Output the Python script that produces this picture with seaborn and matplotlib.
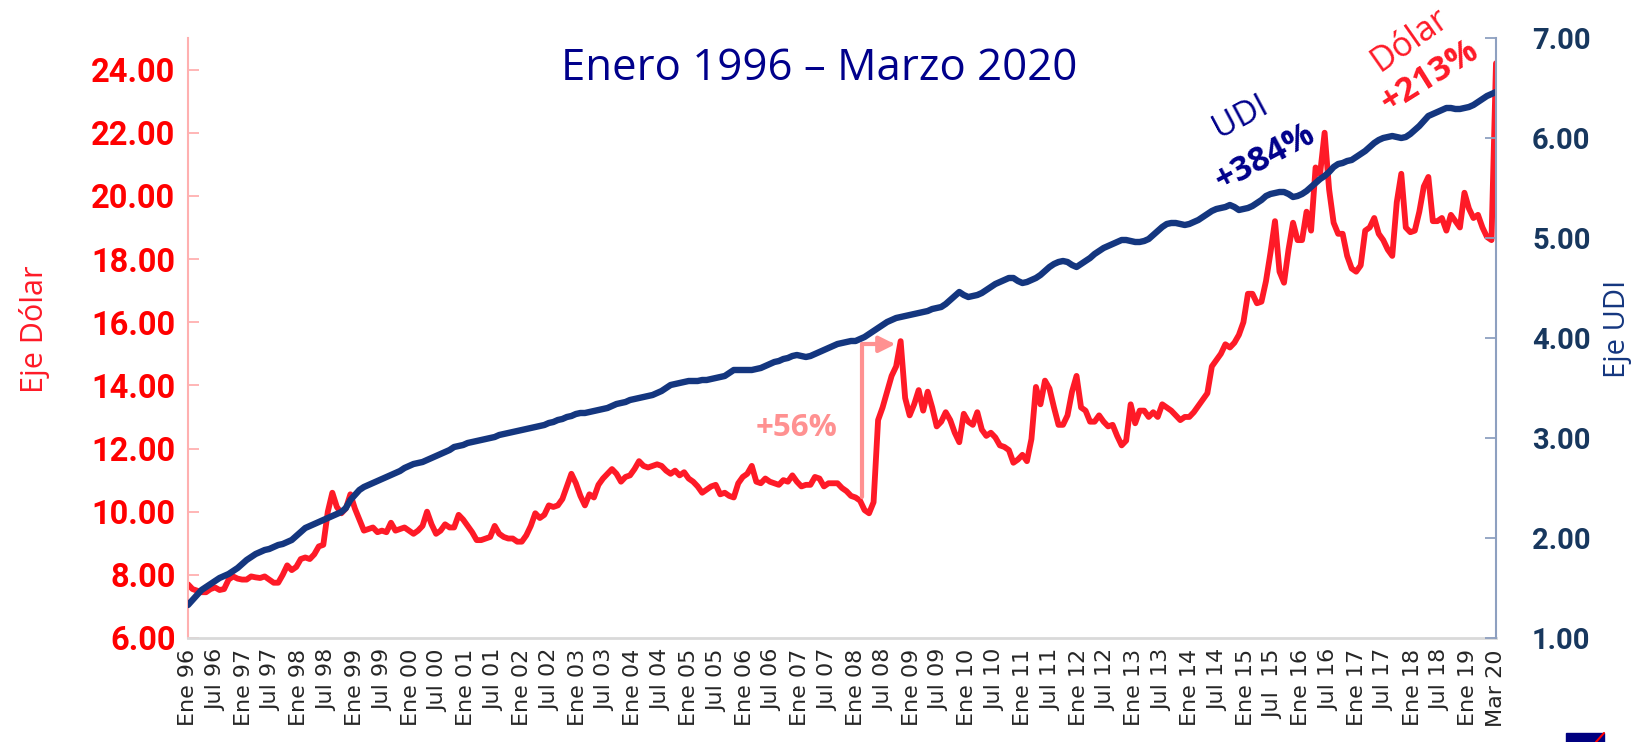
import numpy as np
import pandas as pd
import matplotlib.pyplot as plt
import seaborn as sns
from matplotlib.patches import Rectangle
from matplotlib.lines import Line2D

sns.set_style('white')
plt.rcParams['font.family'] = ['Open Sans', 'DejaVu Sans']

# Tipo de cambio (pesos por dólar), un valor por mes, Ene 96 - Mar 20
dolar = [
    7.70, 7.55, 7.50, 7.45, 7.45, 7.55, 7.60, 7.52, 7.55, 7.85, 7.95, 7.88,        # 1996
    7.85, 7.85, 7.95, 7.92, 7.90, 7.95, 7.85, 7.75, 7.75, 8.00, 8.30, 8.15,        # 1997
    8.25, 8.50, 8.55, 8.50, 8.65, 8.90, 8.95, 10.00, 10.60, 10.15, 9.95, 10.10,    # 1998
    10.55, 10.10, 9.75, 9.40, 9.45, 9.50, 9.35, 9.40, 9.35, 9.65, 9.40, 9.45,      # 1999
    9.50, 9.40, 9.30, 9.40, 9.55, 10.00, 9.60, 9.30, 9.40, 9.60, 9.50, 9.50,       # 2000
    9.90, 9.75, 9.55, 9.35, 9.10, 9.10, 9.15, 9.20, 9.55, 9.30, 9.20, 9.15,        # 2001
    9.15, 9.05, 9.05, 9.25, 9.55, 9.95, 9.80, 9.90, 10.20, 10.15, 10.20, 10.40,    # 2002
    10.80, 11.20, 10.90, 10.50, 10.20, 10.55, 10.45, 10.85, 11.05, 11.20, 11.35, 11.20,  # 2003
    10.95, 11.10, 11.15, 11.35, 11.60, 11.45, 11.40, 11.45, 11.50, 11.45, 11.30, 11.20,  # 2004
    11.30, 11.15, 11.25, 11.05, 10.95, 10.80, 10.60, 10.70, 10.80, 10.85, 10.55, 10.60,  # 2005
    10.50, 10.45, 10.90, 11.10, 11.20, 11.45, 10.95, 10.90, 11.05, 10.95, 10.90, 10.85,  # 2006
    11.00, 10.95, 11.15, 10.95, 10.80, 10.85, 10.85, 11.10, 11.05, 10.80, 10.90, 10.90,  # 2007
    10.90, 10.75, 10.65, 10.50, 10.45, 10.35, 10.05, 9.95, 10.30, 12.90, 13.30, 13.80,   # 2008
    14.30, 14.60, 15.40, 13.60, 13.05, 13.40, 13.85, 13.20, 13.80, 13.30, 12.70, 12.85,  # 2009
    13.15, 12.90, 12.50, 12.20, 13.10, 12.85, 12.75, 13.15, 12.60, 12.40, 12.50, 12.35,  # 2010
    12.10, 12.05, 11.95, 11.55, 11.65, 11.80, 11.60, 12.30, 13.95, 13.40, 14.15, 13.90,  # 2011
    13.30, 12.75, 12.75, 13.05, 13.80, 14.30, 13.30, 13.20, 12.85, 12.85, 13.05, 12.85,  # 2012
    12.70, 12.75, 12.40, 12.10, 12.25, 13.40, 12.80, 13.20, 13.20, 13.00, 13.15, 13.00,  # 2013
    13.40, 13.30, 13.20, 13.05, 12.90, 13.00, 13.00, 13.15, 13.35, 13.55, 13.75, 14.60,  # 2014
    14.80, 15.00, 15.30, 15.20, 15.35, 15.60, 16.00, 16.90, 16.90, 16.60, 16.65, 17.30,  # 2015
    18.20, 19.20, 17.60, 17.25, 18.30, 19.15, 18.60, 18.60, 19.50, 18.90, 20.90, 20.70,  # 2016
    22.00, 20.20, 19.15, 18.80, 18.80, 18.10, 17.70, 17.60, 17.80, 18.90, 19.00, 19.30,  # 2017
    18.80, 18.60, 18.30, 18.10, 19.80, 20.70, 19.00, 18.85, 18.90, 19.50, 20.30, 20.60,  # 2018
    19.20, 19.20, 19.30, 18.90, 19.40, 19.20, 19.00, 20.10, 19.60, 19.30, 19.40, 19.00,  # 2019
    18.70, 18.60, 24.20,                                                                 # 2020
]

# Valor de la UDI, un valor por mes, Ene 96 - Mar 20
udi = [
    1.33, 1.38, 1.43, 1.48, 1.51, 1.54, 1.57, 1.60, 1.62, 1.64, 1.67, 1.70,  # 1996
    1.74, 1.78, 1.81, 1.84, 1.86, 1.88, 1.89, 1.91, 1.93, 1.94, 1.96, 1.98,  # 1997
    2.02, 2.06, 2.10, 2.12, 2.14, 2.16, 2.18, 2.20, 2.22, 2.24, 2.26, 2.30,  # 1998
    2.38, 2.43, 2.48, 2.51, 2.53, 2.55, 2.57, 2.59, 2.61, 2.63, 2.65, 2.67,  # 1999
    2.70, 2.72, 2.74, 2.75, 2.76, 2.78, 2.80, 2.82, 2.84, 2.86, 2.88, 2.91,  # 2000
    2.92, 2.93, 2.95, 2.96, 2.97, 2.98, 2.99, 3.00, 3.01, 3.03, 3.04, 3.05,  # 2001
    3.06, 3.07, 3.08, 3.09, 3.10, 3.11, 3.12, 3.13, 3.15, 3.16, 3.18, 3.19,  # 2002
    3.21, 3.22, 3.24, 3.25, 3.25, 3.26, 3.27, 3.28, 3.29, 3.30, 3.32, 3.34,  # 2003
    3.35, 3.36, 3.38, 3.39, 3.40, 3.41, 3.42, 3.43, 3.45, 3.47, 3.50, 3.53,  # 2004
    3.54, 3.55, 3.56, 3.57, 3.57, 3.57, 3.58, 3.58, 3.59, 3.60, 3.61, 3.62,  # 2005
    3.65, 3.68, 3.68, 3.68, 3.68, 3.68, 3.69, 3.70, 3.72, 3.74, 3.76, 3.77,  # 2006
    3.79, 3.80, 3.82, 3.83, 3.82, 3.81, 3.82, 3.84, 3.86, 3.88, 3.90, 3.92,  # 2007
    3.94, 3.95, 3.96, 3.97, 3.97, 3.99, 4.01, 4.04, 4.07, 4.10, 4.13, 4.16,  # 2008
    4.18, 4.20, 4.21, 4.22, 4.23, 4.24, 4.25, 4.26, 4.27, 4.29, 4.30, 4.31,  # 2009
    4.34, 4.38, 4.42, 4.46, 4.43, 4.41, 4.42, 4.43, 4.45, 4.48, 4.51, 4.54,  # 2010
    4.56, 4.58, 4.60, 4.60, 4.57, 4.55, 4.56, 4.58, 4.60, 4.63, 4.67, 4.71,  # 2011
    4.74, 4.76, 4.77, 4.76, 4.73, 4.71, 4.74, 4.77, 4.80, 4.84, 4.87, 4.90,  # 2012
    4.92, 4.94, 4.96, 4.98, 4.98, 4.97, 4.96, 4.96, 4.97, 4.99, 5.03, 5.07,  # 2013
    5.11, 5.14, 5.15, 5.15, 5.14, 5.13, 5.14, 5.16, 5.18, 5.21, 5.24, 5.27,  # 2014
    5.29, 5.30, 5.31, 5.33, 5.31, 5.28, 5.29, 5.30, 5.32, 5.35, 5.38, 5.42,  # 2015
    5.44, 5.45, 5.46, 5.46, 5.44, 5.41, 5.42, 5.44, 5.47, 5.51, 5.55, 5.59,  # 2016
    5.62, 5.66, 5.71, 5.74, 5.75, 5.77, 5.78, 5.81, 5.84, 5.87, 5.91, 5.95,  # 2017
    5.98, 6.00, 6.01, 6.02, 6.01, 6.00, 6.01, 6.04, 6.08, 6.12, 6.17, 6.22,  # 2018
    6.24, 6.26, 6.28, 6.30, 6.30, 6.29, 6.29, 6.30, 6.31, 6.33, 6.36, 6.39,  # 2019
    6.42, 6.44, 6.46,                                                        # 2020
]

etiquetas = ['Ene 96', 'Jul 96', 'Ene 97', 'Jul 97', 'Ene 98', 'Jul 98', 'Ene 99', 'Jul 99',
             'Ene 00', 'Jul 00', 'Ene 01', 'Jul 01', 'Ene 02', 'Jul 02', 'Ene 03', 'Jul 03',
             'Ene 04', 'Jul 04', 'Ene 05', 'Jul 05', 'Ene 06', 'Jul 06', 'Ene 07', 'Jul 07',
             'Ene 08', 'Jul 08', 'Ene 09', 'Jul 09', 'Ene 10', 'Jul 10', 'Ene 11', 'Jul 11',
             'Ene 12', 'Jul 12', 'Ene 13', 'Jul 13', 'Ene 14', 'Jul 14', 'Ene 15', 'Jul  15',
             'Ene 16', 'Jul 16', 'Ene 17', 'Jul 17', 'Ene 18', 'Jul 18', 'Ene 19', 'Mar 20']

ticks_dolar = [6, 8, 10, 12, 14, 16, 18, 20, 22, 24]
ticks_udi = [1, 2, 3, 4, 5, 6, 7]

ROJO = '#fe1a27'
AZUL = '#14367f'
MARINO = '#00008b'
ROSA = '#ff9191'

df = pd.DataFrame({'mes': np.arange(len(dolar)), 'dolar': dolar, 'udi': udi})

fig = plt.figure(figsize=(16.36, 7.42), dpi=100)
ax = fig.add_axes([188 / 1636, 104 / 742, 1308 / 1636, 600 / 742])

sns.lineplot(data=df, x='mes', y='dolar', ax=ax, color=ROJO, linewidth=4.2)
ax2 = ax.twinx()
sns.lineplot(data=df, x='mes', y='udi', ax=ax2, color=AZUL, linewidth=4.6)

ax.set_xlim(0, len(dolar) - 1)
ax.set_ylim(6, 25)
ax2.set_ylim(1, 7)

# eje izquierdo (dólar)
ax.set_yticks(ticks_dolar)
ax.set_yticklabels([f'{v:.2f}' for v in ticks_dolar], color='red',
                   fontsize=23.5, fontweight='bold', family='Roboto')
ax.tick_params(axis='y', direction='in', length=8, width=1.3, color='#ffb0b0', pad=9)
ax.set_ylabel('')
fig.text(34 / 1636, 1 - 329 / 742, 'Eje Dólar', color=ROJO, fontsize=22, rotation=90,
         ha='center', va='center')

# eje derecho (UDI)
ax2.set_yticks(ticks_udi)
ax2.set_yticklabels([f'{v:.2f}' for v in ticks_udi], color='#17375e',
                    fontsize=21, fontweight='bold', family='Roboto')
ax2.tick_params(axis='y', direction='in', length=8, width=1.3, color='#8ea0c0', pad=26)
ax2.set_ylabel('')
fig.text(1617 / 1636, 1 - 329 / 742, 'Eje UDI', color=AZUL, fontsize=21, rotation=90,
         ha='center', va='center')

# eje x
ax.set_xticks(np.linspace(0, len(dolar) - 1, len(etiquetas)))
ax.set_xticklabels(etiquetas, rotation=90, fontsize=16, color='#262626', family='DejaVu Sans')
ax.tick_params(axis='x', direction='in', length=6, width=1.3, color='#d0d0d0', pad=8)
ax.set_xlabel('')

for s in ['top', 'right']:
    ax.spines[s].set_visible(False)
for s in ['top', 'left', 'bottom']:
    ax2.spines[s].set_visible(False)
ax.spines['left'].set_color('#ffb0b0')
ax.spines['left'].set_linewidth(1.5)
ax.spines['bottom'].set_color('#d9d9d9')
ax.spines['bottom'].set_linewidth(2)
ax2.spines['right'].set_color('#8ea0c0')
ax2.spines['right'].set_linewidth(1.5)

# flecha +56%
i_max = int(np.argmax(dolar[:200]))
i_min = int(np.argmin(dolar[140:i_max])) + 140
ax.annotate('', xy=(i_max - 1.2, dolar[i_max] - 0.1), xytext=(i_min - 1.5, dolar[i_min] + 0.5),
            arrowprops=dict(arrowstyle='-|>', color=ROSA, lw=3, mutation_scale=24,
                            shrinkA=0, shrinkB=0,
                            connectionstyle='angle,angleA=90,angleB=0,rad=0'))
ax.text(135, 12.65, '+56%', color=ROSA, fontsize=22.5, fontweight='bold', ha='center', va='center')

# etiquetas de crecimiento
ax2.text(233.4, 6.21, 'UDI', color=MARINO, fontsize=24, rotation=28, ha='center', va='center')
ax2.text(238.7, 5.80, '+384%', color=MARINO, fontsize=24.5, fontweight='bold', rotation=28,
         ha='center', va='center')
ax2.text(271, 6.98, 'Dólar', color=ROJO, fontsize=24.5, rotation=35, ha='center', va='center')
ax2.text(275.2, 6.61, '+213%', color=ROJO, fontsize=24.5, fontweight='bold', rotation=32,
         ha='center', va='center')

fig.text(0.5006, 0.908, 'Enero 1996 – Marzo 2020', color=MARINO, fontsize=31.5,
         ha='center', va='center')

# logotipo recortado en la esquina
fig.add_artist(Rectangle((1566 / 1636, 0), 38 / 1636, 9 / 742, transform=fig.transFigure,
                         color='#000080'))
fig.add_artist(Line2D([1596 / 1636, 1604 / 1636], [0, 9 / 742], transform=fig.transFigure,
                      color='red', lw=1.5))

fig.savefig('out.png', dpi=100)
